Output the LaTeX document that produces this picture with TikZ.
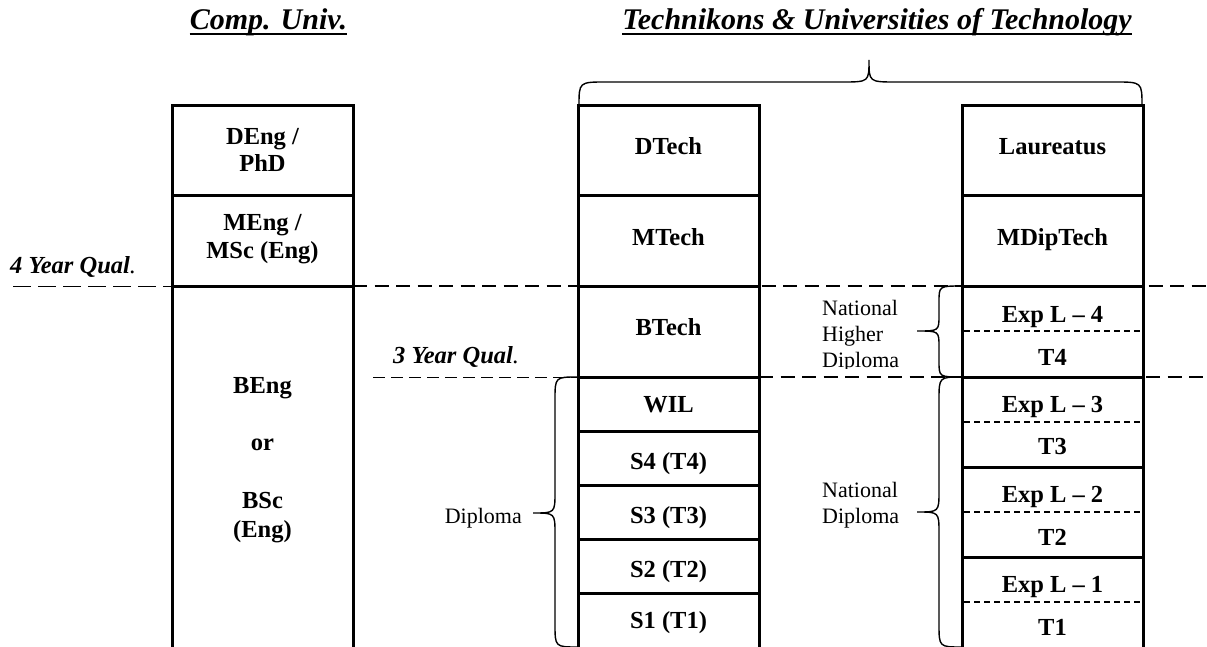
\documentclass[tikz,border=0pt]{standalone}
\usepackage{fontspec}
\setmainfont{Liberation Serif}
\begin{document}
\begin{tikzpicture}[x=1pt,y=-1pt,
  boxline/.style={line width=3pt},
  sepdash/.style={line width=1.3pt, dash pattern=on 6pt off 4pt},
  thickdash/.style={line width=2pt, dash pattern=on 14pt off 7.5pt},
  thindash/.style={line width=1pt, dash pattern=on 18pt off 7pt},
  thindashb/.style={line width=1pt, dash pattern=on 12pt off 6pt},
  bracel/.style={line width=1.4pt},
  cell/.style={font=\fontsize{24.5}{27}\selectfont\bfseries, inner sep=0pt, align=center},
  titletext/.style={font=\fontsize{30}{36}\selectfont\bfseries\itshape, inner sep=0pt},
  qual/.style={font=\fontsize{24.5}{28}\selectfont, inner sep=0pt},
  bracetext/.style={font=\fontsize{22}{26}\selectfont, inner sep=0pt}
]
\useasboundingbox (0,0) rectangle (1207,647);
\clip (0,0) rectangle (1207,647);

% titles
\node[titletext, anchor=base] (t1) at (268.5,30) {Comp. Univ.};
\node[titletext, anchor=base] (t2) at (877,30) {Technikons \& Universities of Technology};
\draw[line width=2.2pt] ([yshift=-4pt]t1.base west) -- ([yshift=-4pt]t1.base east);
\draw[line width=2.2pt] ([yshift=-4pt]t2.base west) -- ([yshift=-4pt]t2.base east);

% qualification lines
\draw[thindash] (13,286) -- (172,286);
\draw[thickdash] (353,286) -- (1207,286);
\draw[thindashb] (373,377) -- (578,377);
\draw[thickdash] (759,377) -- (1207,377);

% qual labels
\node[qual, anchor=base west] (q4) at (10,273) {\textbf{\textit{4 Year Qual}}\textit{.}};
\node[qual, anchor=base west] (q3) at (393,363) {\textbf{\textit{3 Year Qual}}\textit{.}};

% left column
\draw[boxline] (172,660) -- (172,106) -- (353,106) -- (353,660);
\draw[boxline] (172,196) -- (353,196);
\draw[boxline] (172,286) -- (353,286);
\node[cell] (deng) at (262.5,149.5) {DEng /\\PhD};
\node[cell, font=\fontsize{24.5}{28}\selectfont\bfseries] (meng) at (262.5,239) {MEng /\\MSc (Eng)};
\node[cell, font=\fontsize{24.5}{28.8}\selectfont\bfseries] (beng) at (262.5,460) {BEng\\[28.8pt]or\\[28.8pt]BSc\\(Eng)};

% middle column
\draw[boxline] (578,660) -- (578,106) -- (759,106) -- (759,660);
\foreach \yy in {196,286,377,431,485,539,593}
  \draw[boxline] (578,\yy) -- (759,\yy);
\node[cell, anchor=base] (dtech) at (668.5,155) {DTech};
\node[cell, anchor=base] (mtech) at (668.5,245) {MTech};
\node[cell, anchor=base] (btech) at (668.5,335) {BTech};
\node[cell, anchor=base] (wil) at (668.5,412) {WIL};
\node[cell, anchor=base] (s4) at (668.5,469) {S4 (T4)};
\node[cell, anchor=base] (s3) at (668.5,523) {S3 (T3)};
\node[cell, anchor=base] (s2) at (668.5,577) {S2 (T2)};
\node[cell, anchor=base] (s1) at (668.5,628) {S1 (T1)};

% right column
\draw[boxline] (962,660) -- (962,106) -- (1143,106) -- (1143,660);
\foreach \yy in {196,286,377,467,557}
  \draw[boxline] (962,\yy) -- (1143,\yy);
\foreach \yy in {331,422,512,602}
  \draw[sepdash] (964,\yy) -- (1141,\yy);
\node[cell, anchor=base] (laur) at (1052.5,155) {Laureatus};
\node[cell, anchor=base] (mdip) at (1052.5,245) {MDipTech};
\node[cell, anchor=base] (e4) at (1052.5,322) {Exp L -- 4};
\node[cell, anchor=base] (tt4) at (1052.5,365) {T4};
\node[cell, anchor=base] (e3) at (1052.5,412) {Exp L -- 3};
\node[cell, anchor=base] (tt3) at (1052.5,454) {T3};
\node[cell, anchor=base] (e2) at (1052.5,502) {Exp L -- 2};
\node[cell, anchor=base] (tt2) at (1052.5,545) {T2};
\node[cell, anchor=base] (e1) at (1052.5,592) {Exp L -- 1};
\node[cell, anchor=base] (tt1) at (1052.5,635) {T1};

% top brace
\draw[bracel] (579,106) .. controls (579,82) .. (606,82) -- (842,82)
  .. controls (869,82) .. (869,60) .. controls (869,82) .. (896,82)
  -- (1115,82) .. controls (1142,82) .. (1142,106);

% Diploma brace
\draw[bracel] (578,377) .. controls (555,377) .. (555,400) -- (555,492)
  .. controls (555,513) .. (533,513) .. controls (555,513) .. (555,534)
  -- (555,624) .. controls (555,647) .. (578,647);
\node[bracetext, anchor=base east] (dipl) at (522,523) {Diploma};

% National Diploma brace
\draw[bracel] (962,377) .. controls (939,377) .. (939,400) -- (939,491)
  .. controls (939,512) .. (917,512) .. controls (939,512) .. (939,533)
  -- (939,624) .. controls (939,647) .. (962,647);
\node[bracetext, anchor=west, align=left] (nd) at (822,504.9) {National\\Diploma};

% National Higher Diploma brace
\draw[bracel] (962,286) .. controls (939,286) .. (939,302) -- (939,315)
  .. controls (939,331) .. (917,331) .. controls (939,331) .. (939,347)
  -- (939,361) .. controls (939,377) .. (962,377);
\begin{scope}
\clip (800,288) rectangle (915,368);
\node[bracetext, anchor=west, align=left] (nhd) at (822,336.6) {National\\Higher\\Diploma};
\end{scope}
\end{tikzpicture}
\end{document}
